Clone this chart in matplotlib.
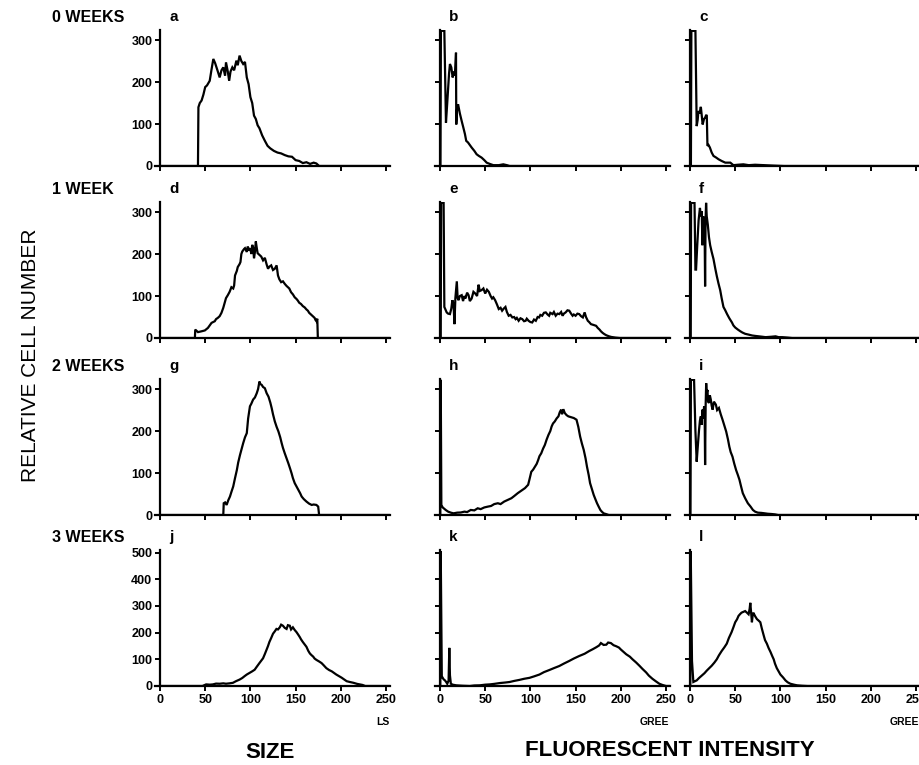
import matplotlib
matplotlib.use("Agg")
import matplotlib.pyplot as plt

plt.rcParams['font.family'] = ['Liberation Sans', 'DejaVu Sans']

# channel, cell count pairs
a = [(0, 0), (42, 0), (42.5, 140), (44, 150), (46, 156), (48, 170), (50, 188), (52, 192), (55, 203),
     (57, 230), (59, 255), (61, 245), (62.5, 235), (64, 225), (66, 211), (68, 228), (70, 235), (72, 215),
     (73, 247), (75, 225), (76.5, 203), (78, 225), (80, 235), (82, 228), (84.5, 251), (86, 240), (88, 263),
     (90, 250), (92, 243), (94, 248), (96, 211), (98, 195), (100, 164), (102, 150), (104, 120), (106, 112),
     (108, 97), (110, 90), (113, 73), (116, 60), (119, 48), (122, 42), (126, 36), (130, 32), (134, 30),
     (138, 26), (142, 23), (146, 22), (150, 14), (154, 12), (158, 7), (162, 9), (166, 5), (170, 8),
     (173, 6), (176, 0), (254, 0)]
b = [(0, 0), (0.5, 0), (1, 322), (4.8, 322), (6.6, 103), (8, 150), (10, 220), (11, 243), (12.5, 235),
     (14, 211), (15.5, 225), (16.5, 215), (17.7, 270), (18, 99), (19, 140), (20, 147), (22, 125), (24, 107),
     (26, 90), (27.6, 76), (29, 60), (31, 56), (33, 50), (35, 44), (38, 36), (40.5, 28), (43, 24), (46, 20),
     (49, 14), (51.6, 8), (55, 5), (59, 2), (65, 2), (70, 4), (74, 2), (77, 0), (254, 0)]
c = [(0, 0), (1, 0), (1.5, 322), (6, 322), (7.4, 95), (8.5, 110), (9.3, 131), (10.5, 125), (12, 141),
     (13, 120), (14, 99), (15.5, 112), (16.7, 115), (18, 122), (18.6, 119), (19.3, 48), (20.5, 50),
     (22, 44), (24, 32), (26, 24), (29, 20), (31.6, 16), (35, 12), (39, 8), (44.6, 8), (48, 2), (53, 3),
     (59, 4), (65, 2), (72, 3), (82, 2), (92, 1), (104, 0), (254, 0)]
d = [(0, 0), (38.6, 0), (39, 20), (42, 14), (46, 16), (49.6, 18), (53, 24), (55, 30), (57, 36), (60.6, 40),
     (62, 45), (64, 48), (66, 52), (68, 60), (70, 72), (71.7, 85), (73, 95), (75, 102), (77, 110), (79, 121),
     (81, 118), (82, 125), (83, 149), (85, 160), (86, 169), (88, 176), (89, 181), (90, 200), (91, 206),
     (93, 212), (94, 214), (96, 205), (97, 218), (99, 208), (100, 214), (101, 200), (102, 222), (103, 215),
     (104, 190), (105, 205), (106, 230), (107, 215), (108, 202), (110, 198), (112, 194), (114, 185),
     (116, 191), (118, 175), (119.5, 165), (121, 170), (123, 173), (125, 162), (127, 165), (129, 173),
     (130.5, 149), (132, 140), (134, 133), (136, 135), (138, 129), (140, 124), (141.5, 121), (143, 118),
     (145, 109), (147, 104), (149, 97), (151, 93), (152.5, 89), (154, 84), (156, 81), (158, 76), (160, 73),
     (162, 68), (163.6, 65), (165, 60), (167, 56), (169, 52), (171, 48), (172, 43), (173, 40), (174, 46),
     (174.6, 0), (254, 0)]
e = [(0, 0), (0.8, 0), (1.2, 322), (4, 322), (4.8, 74), (7.4, 61), (9, 58), (11, 57), (12.5, 70),
     (13.7, 90), (15, 80), (16, 33), (17, 95), (18.6, 135), (19.5, 95), (20.4, 90), (22, 100), (24, 102),
     (25.5, 88), (27, 100), (28, 94), (30, 108), (31.6, 102), (33, 88), (35, 94), (37, 110), (39, 106),
     (41, 100), (42.7, 127), (44, 112), (46, 114), (48, 118), (50, 106), (52, 115), (54, 110), (56, 100),
     (57.6, 94), (59, 97), (61, 90), (63, 80), (65, 69), (67, 72), (68.7, 65), (70.5, 70), (72.4, 74),
     (74, 62), (76, 53), (78, 55), (80, 49), (82, 50), (83.6, 45), (85, 48), (87, 41), (89, 47), (91, 45),
     (93, 40), (94.7, 41), (96, 46), (98, 41), (100, 38), (102, 37), (104, 44), (106, 41), (108, 50),
     (109.6, 49), (111, 55), (113, 53), (115, 60), (117, 61), (119, 56), (120.7, 53), (122, 60),
     (124.5, 57), (126, 62), (128, 53), (130, 58), (132, 57), (134, 62), (135.6, 53), (137, 58), (139, 61),
     (141, 66), (143, 65), (145, 58), (146.7, 53), (148, 56), (150, 53), (152, 58), (154, 57), (156, 52),
     (158, 49), (160, 61), (161.5, 50), (163.5, 41), (165, 38), (167, 33), (170, 31), (172.7, 29),
     (174.5, 24), (176.5, 20), (178, 16), (180, 12), (182, 9), (184, 6.5), (187, 4), (189.5, 2.5),
     (194, 1), (199, 0), (254, 0)]
f = [(0, 0), (0.8, 0), (1.2, 322), (5, 322), (6, 163), (6.7, 163), (8, 220), (9.5, 280), (11, 310),
     (12, 290), (13, 302), (13.7, 221), (14.5, 290), (15.6, 278), (16.2, 250), (16.7, 123), (17.2, 280),
     (17.8, 322), (18.5, 290), (19.7, 270), (21, 240), (22.3, 221), (24, 205), (26, 188), (28, 165),
     (29.7, 147), (31.5, 130), (33.4, 114), (35, 95), (37, 74), (39, 66), (41, 57), (43.5, 47), (46.4, 37),
     (48, 30), (50, 25), (53, 20), (55.7, 16), (58, 13), (61, 10), (65, 8), (68.7, 6), (72, 5), (76, 4),
     (80, 3), (83.6, 2), (90, 3), (94.7, 4), (98, 2), (102, 2), (108, 1), (113, 0), (254, 0)]
g = [(0, 0), (70, 0), (70.5, 28), (72, 30), (73.7, 24), (75.5, 35), (77.4, 44), (79, 55), (81, 68),
     (83, 88), (85, 107), (86.5, 125), (88.5, 143), (90, 155), (92, 171), (94, 185), (96, 195),
     (97.5, 230), (99.5, 259), (101, 265), (103, 275), (105, 280), (107, 290), (108.5, 300), (110, 318),
     (111, 312), (112.5, 310), (114, 305), (116, 302), (118, 290), (120, 282), (122, 268), (123.5, 255),
     (125, 240), (127, 223), (129, 210), (131, 199), (133, 185), (134.6, 171), (136, 160), (138, 147),
     (140, 135), (142, 123), (144, 110), (145.6, 99), (147, 88), (149, 76), (151, 68), (153, 60), (155, 52),
     (156.7, 44), (159, 38), (162, 32), (165, 27), (167.8, 24), (170, 25), (173, 24), (175, 20), (176, 0),
     (254, 0)]
h = [(0, 0), (0.3, 0), (0.8, 322), (1.5, 24), (3, 18), (6.3, 12), (9, 8), (12, 5.6), (15, 4), (19, 5.6),
     (23, 6), (27, 8), (30, 7), (34, 12), (38, 11), (41.7, 16), (45, 14), (49, 18), (53, 20), (56.5, 21.5),
     (60, 26), (64, 28), (67, 26), (71, 32), (75, 36), (79, 40), (82, 45), (86, 52), (90, 58), (94, 64),
     (97.5, 72), (99, 85), (101, 103), (103, 108), (105, 115), (107, 122), (108.6, 131), (110, 140),
     (112, 147), (114, 158), (116, 167), (118, 180), (120, 191), (122, 200), (123.5, 211), (125, 218),
     (127, 223), (129, 230), (131, 235), (132.5, 245), (134, 251), (135, 240), (136.5, 252), (138, 243),
     (140, 238), (142, 235), (145, 233), (148, 231), (151, 227), (153, 210), (155, 187), (157, 170),
     (159, 155), (161, 135), (162.6, 115), (164.5, 95), (166, 76), (168, 62), (170, 48), (172, 37),
     (173.7, 28), (175.5, 20), (177.4, 12), (179, 8), (181, 4), (184, 2), (186.7, 0), (254, 0)]
i = [(0, 0), (0.5, 0), (1, 322), (4.5, 322), (6, 200), (7.4, 127), (8.5, 160), (10, 203), (11, 225),
     (12, 235), (12.8, 215), (13.8, 251), (14.5, 230), (15.6, 259), (16.2, 240), (16.7, 119), (17.3, 260),
     (17.9, 314), (18.5, 290), (19.3, 298), (20, 270), (21, 267), (22, 285), (23, 275), (24, 260),
     (25, 251), (26.5, 270), (28.6, 263), (30, 250), (32, 255), (34, 240), (36, 227), (38, 213), (40, 199),
     (42, 180), (43.5, 163), (45, 150), (47, 139), (49, 122), (51, 107), (53, 95), (54.7, 84), (56.5, 68),
     (58.4, 52), (61, 40), (64, 28), (67, 20), (69.6, 12), (72, 8), (75, 5.6), (79, 5), (82.6, 4), (86, 3),
     (90, 2.4), (94, 1.5), (97.5, 0), (254, 0)]
j = [(0, 0), (47, 0), (51, 6), (55, 5), (58.5, 6), (62, 9), (66, 8.5), (70, 10), (73, 8.5), (77, 10),
     (80.7, 12), (84, 18), (88, 24), (91, 30), (93.6, 37), (96, 43), (99, 49), (102, 55), (104.7, 61),
     (107, 72), (110, 86), (112, 95), (114, 104), (116, 120), (117.7, 134.5), (119.5, 150), (121, 165),
     (123, 180), (125, 196), (127, 205), (128.8, 214), (130.5, 212), (132.5, 220), (134, 230), (136, 226),
     (138, 218), (140, 214), (141.5, 228), (143.6, 226), (145, 212), (147, 220), (149, 210), (151, 202),
     (153, 192), (154.7, 183), (156, 175), (158, 165), (160, 156), (162, 147), (164, 132), (165.8, 122),
     (167.5, 116), (169.5, 110), (171, 103), (173, 98), (176, 92), (178.7, 86), (181, 78), (184, 67),
     (187, 60), (190, 55), (192.5, 49), (195, 43), (198, 37), (201, 31), (203.5, 25), (206.5, 18),
     (210, 15), (214, 12), (218, 8), (221, 6), (224, 4), (227, 0), (254, 0)]
k = [(0, 0), (0.3, 0), (0.8, 505), (2, 33), (2.6, 33), (4, 25), (5.5, 21), (7, 14), (8, 8.5), (9.5, 20),
     (10.3, 143), (11, 40), (12, 8.5), (14, 5), (18, 2.5), (25, 1), (33, 0), (38, 2), (44, 2.5), (50, 5),
     (55, 6), (60, 8), (66, 11), (72, 13), (77, 15), (82, 19), (88, 23), (93, 27), (99, 30.6), (104, 36),
     (110, 43), (115, 52), (121, 60), (126, 67), (132, 75), (137, 84), (143, 94), (148, 103), (154, 112.5),
     (160, 121), (165, 131), (169, 138), (173, 145.6), (176, 152), (178, 161), (181, 154), (184, 155),
     (186, 163), (189, 161), (192, 153), (195, 149), (198, 144), (200, 137), (203, 128), (206, 119),
     (210, 110), (213, 100), (217, 88), (220.6, 76), (224, 64), (228, 51), (231, 39), (235, 27), (239, 17),
     (242.6, 8.5), (246, 4), (250, 0), (254, 0)]
l = [(0, 0), (0.3, 0), (0.8, 505), (2.2, 94), (3.7, 15), (5.5, 18), (7.4, 21), (10, 30), (13, 39),
     (16, 48), (18.5, 57.5), (21, 66), (24, 76), (27, 88), (29.6, 100), (32, 115), (35, 131), (38, 145),
     (40.7, 159), (43, 180), (46, 202), (48, 220), (50, 239), (52, 250), (53.7, 263), (55.5, 270), (57, 275),
     (59, 278), (61, 281), (63, 275), (64.8, 269), (66, 290), (66.7, 312), (67.5, 280), (68.5, 239),
     (69.3, 265), (70, 275), (72, 262), (74, 251), (76, 245), (77.8, 239), (79.5, 215), (81.5, 190),
     (83, 172), (85, 159), (87, 142), (89, 128), (91, 112), (92.6, 100), (94, 84), (96, 67), (98, 55),
     (100, 43), (103, 32), (105.6, 21), (108, 14), (111, 8.5), (115, 5), (118.5, 2.5), (124, 1), (130, 0),
     (254, 0)]

panels = [[a, b, c], [d, e, f], [g, h, i], [j, k, l]]
letters = ["abc", "def", "ghi", "jkl"]
weeks = ["0 WEEKS", "1 WEEK", "2 WEEKS", "3 WEEKS"]
x_ticks = [0, 50, 100, 150, 200, 250]
y_ticks_small = [0, 100, 200, 300]
y_ticks_big = [0, 100, 200, 300, 400, 500]
x_units = ["LS", "GREE", "GREE"]

W, H = 919, 765
fig = plt.figure(figsize=(W / 100, H / 100), dpi=100)

col_x0 = [160, 440, 690]     # pixel of channel 0
row_y0 = [166, 338, 515, 686]  # pixel of count 0
ppu = 226 / 250
ax_h = 136
bold = dict(fontweight='bold', color='black')

for r in range(4):
    for cc in range(3):
        left = col_x0[cc] - 5 * ppu
        ax = fig.add_axes([left / W, 1 - row_y0[r] / H, 259 * ppu / W, ax_h / H])
        pts = panels[r][cc]
        xs = [p[0] for p in pts]
        ys = [p[1] for p in pts]
        ax.plot(xs, ys, color='black', lw=1.6, solid_joinstyle='miter')
        ax.set_xlim(-5, 254)
        ax.set_ylim(0, 510 if r == 3 else 324)
        for s in ['top', 'right']:
            ax.spines[s].set_visible(False)
        ax.spines['left'].set_position(('data', 0))
        ax.spines['left'].set_linewidth(1.6)
        ax.spines['bottom'].set_linewidth(1.6)
        ax.set_xticks(x_ticks)
        ax.set_yticks(y_ticks_big if r == 3 else y_ticks_small)
        ax.tick_params(direction='out', length=3.5, width=1.4, pad=2, labelsize=9)
        if r < 3:
            ax.set_xticklabels([])
        else:
            ax.set_xticklabels([str(t) for t in x_ticks], fontweight='bold')
            ax.text(1.0, -0.265, x_units[cc], transform=ax.transAxes, ha='right', va='center',
                    fontsize=7.5, **bold)
        if cc > 0:
            ax.set_yticklabels([])
        else:
            ax.set_yticklabels([str(t) for t in ax.get_yticks().astype(int)], fontweight='bold')
        ax.patch.set_alpha(0)
        # panel letter
        fig.text((col_x0[cc] + 9) / W, 1 - (row_y0[r] - 149) / H, letters[r][cc],
                 ha='left', va='center', fontsize=11, **bold)
    fig.text(52 / W, 1 - (row_y0[r] - 149) / H, weeks[r], ha='left', va='center', fontsize=11.5, **bold)

fig.text(30 / W, 1 - 355 / H, "RELATIVE CELL NUMBER", rotation=90, ha='center', va='center',
         fontsize=15, color='black')
fig.text(270 / W, 1 - 752 / H, "SIZE", ha='center', va='center', fontsize=16, **bold)
fig.text(670 / W, 1 - 751 / H, "FLUORESCENT INTENSITY", ha='center', va='center', fontsize=16, **bold)

fig.savefig("out.png", dpi=100)
